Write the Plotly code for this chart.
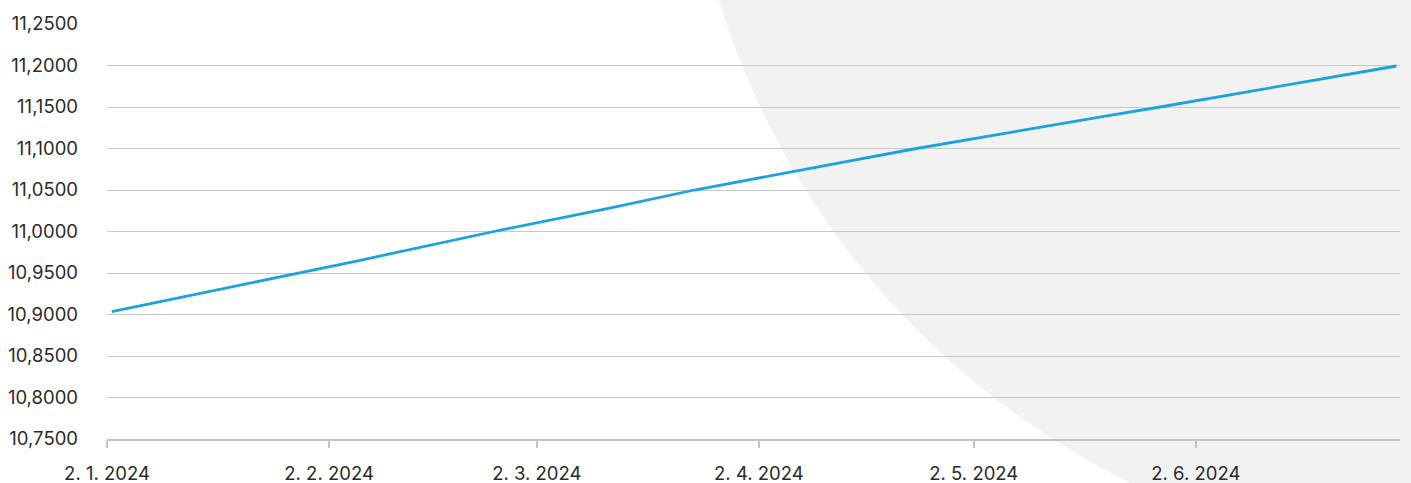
import plotly.graph_objects as go

dates = ["2024-01-02 16:00", "2024-01-29", "2024-02-06", "2024-02-25", "2024-03-12",
         "2024-03-24", "2024-04-16", "2024-04-24", "2024-05-21", "2024-05-28",
         "2024-06-30"]
values = [10.9034, 10.950, 10.9647, 11.000, 11.028, 11.050, 11.087, 11.100,
          11.140, 11.150, 11.1994]

y_min, y_max, y_step = 10.75, 11.25, 0.05
x_start, x_end = "2024-01-02", "2024-06-30 12:00"

fig = go.Figure()
fig.add_trace(go.Scatter(x=dates, y=values, mode="lines",
                         line=dict(color="#1aa3de", width=2.8),
                         hoverinfo="x+y", showlegend=False))

fig.add_shape(type="circle", xref="paper", yref="paper",
              x0=0.4455, x1=1.6845, y0=-0.3036, y1=3.5566,
              fillcolor="#f2f2f2", line=dict(width=0), layer="below")

fig.update_layout(
    width=1411, height=483,
    margin=dict(l=107, r=11, t=24, b=44, autoexpand=False),
    paper_bgcolor="white", plot_bgcolor="rgba(0,0,0,0)",
    separators=", ",
    font=dict(family="Inter", size=18.5, color="#2b2b2b"),
    xaxis=dict(type="date", range=[x_start, x_end], tick0="2024-01-02",
               dtick="M1", tickformat="%-d. %-m. %Y", showgrid=False,
               showline=True, linecolor="#c4c4c4", linewidth=1.5,
               ticks="outside", ticklen=7, tickcolor="#c4c4c4", tickwidth=1.5,
               ticklabelstandoff=10, zeroline=False, automargin=False),
    yaxis=dict(range=[y_min, y_max], dtick=y_step, tick0=y_min,
               tickformat=".4f", showgrid=True, gridcolor="#c8c8c8",
               gridwidth=1, zeroline=False, showline=False,
               ticklabelstandoff=28, automargin=False),
)

fig.write_html("out.html")
